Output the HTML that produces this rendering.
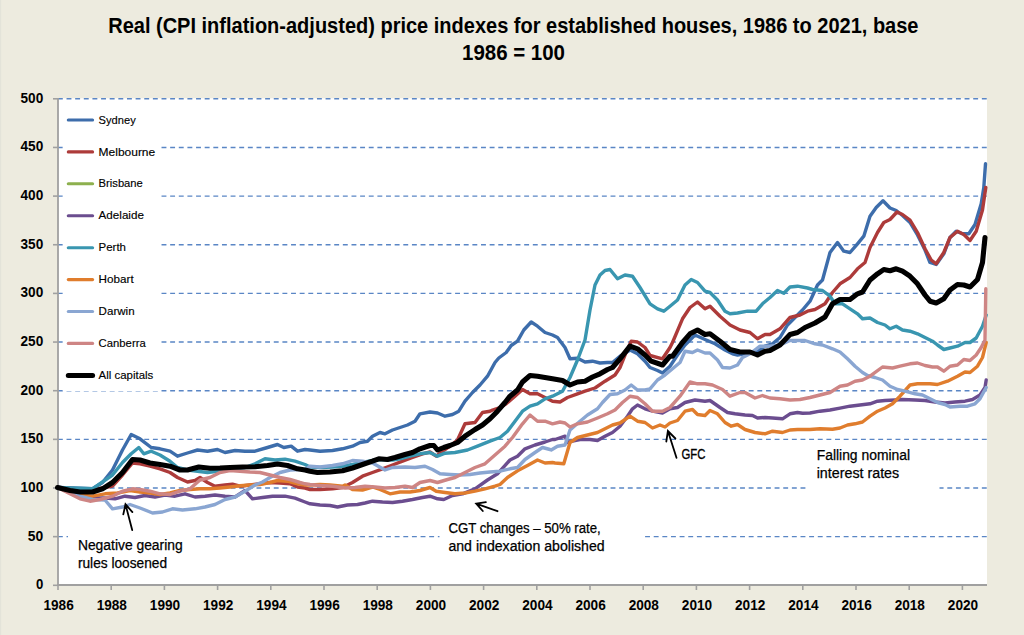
<!DOCTYPE html>
<html><head><meta charset="utf-8"><style>
html,body{margin:0;padding:0;background:#EDEBDF;}
body{width:1024px;height:635px;overflow:hidden;}
svg{display:block;font-family:"Liberation Sans",sans-serif;}
</style></head><body>
<svg width="1024" height="635" viewBox="0 0 1024 635">
<rect x="0" y="0" width="1024" height="635" fill="#EDEBDF"/>
<rect x="0" y="0" width="1.2" height="635" fill="#E3E3D9"/>

<rect x="58" y="98.3" width="929" height="487" fill="#FFFFFF"/>
<g stroke="#5A86C5" stroke-width="1.4" stroke-dasharray="4.9 3.735" fill="none">
<line x1="57.9" y1="536.65" x2="987" y2="536.65"/>
<line x1="57.9" y1="488.00" x2="987" y2="488.00"/>
<line x1="57.9" y1="439.35" x2="987" y2="439.35"/>
<line x1="57.9" y1="390.70" x2="987" y2="390.70"/>
<line x1="57.9" y1="342.05" x2="987" y2="342.05"/>
<line x1="57.9" y1="293.40" x2="987" y2="293.40"/>
<line x1="57.9" y1="244.75" x2="987" y2="244.75"/>
<line x1="57.9" y1="196.10" x2="987" y2="196.10"/>
<line x1="57.9" y1="147.45" x2="987" y2="147.45"/>
<line x1="57.9" y1="98.80" x2="987" y2="98.80"/>
</g>
<g stroke="#A0A0A0" stroke-width="1.6" fill="none">
<line x1="58.0" y1="98" x2="58.0" y2="586" stroke-width="1.8"/>
<line x1="57.1" y1="584.9" x2="987" y2="584.9" stroke-width="2"/>
<line x1="53" y1="585.30" x2="58" y2="585.30"/>
<line x1="53" y1="536.65" x2="58" y2="536.65"/>
<line x1="53" y1="488.00" x2="58" y2="488.00"/>
<line x1="53" y1="439.35" x2="58" y2="439.35"/>
<line x1="53" y1="390.70" x2="58" y2="390.70"/>
<line x1="53" y1="342.05" x2="58" y2="342.05"/>
<line x1="53" y1="293.40" x2="58" y2="293.40"/>
<line x1="53" y1="244.75" x2="58" y2="244.75"/>
<line x1="53" y1="196.10" x2="58" y2="196.10"/>
<line x1="53" y1="147.45" x2="58" y2="147.45"/>
<line x1="53" y1="98.80" x2="58" y2="98.80"/>
<line x1="58.00" y1="585" x2="58.00" y2="590"/>
<line x1="111.20" y1="585" x2="111.20" y2="590"/>
<line x1="164.40" y1="585" x2="164.40" y2="590"/>
<line x1="217.60" y1="585" x2="217.60" y2="590"/>
<line x1="270.80" y1="585" x2="270.80" y2="590"/>
<line x1="324.00" y1="585" x2="324.00" y2="590"/>
<line x1="377.20" y1="585" x2="377.20" y2="590"/>
<line x1="430.40" y1="585" x2="430.40" y2="590"/>
<line x1="483.60" y1="585" x2="483.60" y2="590"/>
<line x1="536.80" y1="585" x2="536.80" y2="590"/>
<line x1="590.00" y1="585" x2="590.00" y2="590"/>
<line x1="643.20" y1="585" x2="643.20" y2="590"/>
<line x1="696.40" y1="585" x2="696.40" y2="590"/>
<line x1="749.60" y1="585" x2="749.60" y2="590"/>
<line x1="802.80" y1="585" x2="802.80" y2="590"/>
<line x1="856.00" y1="585" x2="856.00" y2="590"/>
<line x1="909.20" y1="585" x2="909.20" y2="590"/>
<line x1="962.40" y1="585" x2="962.40" y2="590"/>
</g>
<rect x="62.8" y="100" width="98.2" height="291.1" fill="#FFFFFF"/>
<text x="35.90" y="589.30" font-size="14" font-weight="bold" textLength="7.30" lengthAdjust="spacingAndGlyphs" fill="#000">0</text>
<text x="27.80" y="540.65" font-size="14" font-weight="bold" textLength="15.40" lengthAdjust="spacingAndGlyphs" fill="#000">50</text>
<text x="20.50" y="492.00" font-size="14" font-weight="bold" textLength="22.70" lengthAdjust="spacingAndGlyphs" fill="#000">100</text>
<text x="20.50" y="443.35" font-size="14" font-weight="bold" textLength="22.70" lengthAdjust="spacingAndGlyphs" fill="#000">150</text>
<text x="20.50" y="394.70" font-size="14" font-weight="bold" textLength="22.70" lengthAdjust="spacingAndGlyphs" fill="#000">200</text>
<text x="20.50" y="346.05" font-size="14" font-weight="bold" textLength="22.70" lengthAdjust="spacingAndGlyphs" fill="#000">250</text>
<text x="20.50" y="297.40" font-size="14" font-weight="bold" textLength="22.70" lengthAdjust="spacingAndGlyphs" fill="#000">300</text>
<text x="20.50" y="248.75" font-size="14" font-weight="bold" textLength="22.70" lengthAdjust="spacingAndGlyphs" fill="#000">350</text>
<text x="20.50" y="200.10" font-size="14" font-weight="bold" textLength="22.70" lengthAdjust="spacingAndGlyphs" fill="#000">400</text>
<text x="20.50" y="151.45" font-size="14" font-weight="bold" textLength="22.70" lengthAdjust="spacingAndGlyphs" fill="#000">450</text>
<text x="20.50" y="102.80" font-size="14" font-weight="bold" textLength="22.70" lengthAdjust="spacingAndGlyphs" fill="#000">500</text>
<text x="43.45" y="609.60" font-size="14" font-weight="bold" textLength="30.30" lengthAdjust="spacingAndGlyphs" fill="#000">1986</text>
<text x="96.65" y="609.60" font-size="14" font-weight="bold" textLength="30.30" lengthAdjust="spacingAndGlyphs" fill="#000">1988</text>
<text x="149.85" y="609.60" font-size="14" font-weight="bold" textLength="30.30" lengthAdjust="spacingAndGlyphs" fill="#000">1990</text>
<text x="203.05" y="609.60" font-size="14" font-weight="bold" textLength="30.30" lengthAdjust="spacingAndGlyphs" fill="#000">1992</text>
<text x="256.25" y="609.60" font-size="14" font-weight="bold" textLength="30.30" lengthAdjust="spacingAndGlyphs" fill="#000">1994</text>
<text x="309.45" y="609.60" font-size="14" font-weight="bold" textLength="30.30" lengthAdjust="spacingAndGlyphs" fill="#000">1996</text>
<text x="362.65" y="609.60" font-size="14" font-weight="bold" textLength="30.30" lengthAdjust="spacingAndGlyphs" fill="#000">1998</text>
<text x="415.85" y="609.60" font-size="14" font-weight="bold" textLength="30.30" lengthAdjust="spacingAndGlyphs" fill="#000">2000</text>
<text x="469.05" y="609.60" font-size="14" font-weight="bold" textLength="30.30" lengthAdjust="spacingAndGlyphs" fill="#000">2002</text>
<text x="522.25" y="609.60" font-size="14" font-weight="bold" textLength="30.30" lengthAdjust="spacingAndGlyphs" fill="#000">2004</text>
<text x="575.45" y="609.60" font-size="14" font-weight="bold" textLength="30.30" lengthAdjust="spacingAndGlyphs" fill="#000">2006</text>
<text x="628.65" y="609.60" font-size="14" font-weight="bold" textLength="30.30" lengthAdjust="spacingAndGlyphs" fill="#000">2008</text>
<text x="681.85" y="609.60" font-size="14" font-weight="bold" textLength="30.30" lengthAdjust="spacingAndGlyphs" fill="#000">2010</text>
<text x="735.05" y="609.60" font-size="14" font-weight="bold" textLength="30.30" lengthAdjust="spacingAndGlyphs" fill="#000">2012</text>
<text x="788.25" y="609.60" font-size="14" font-weight="bold" textLength="30.30" lengthAdjust="spacingAndGlyphs" fill="#000">2014</text>
<text x="841.45" y="609.60" font-size="14" font-weight="bold" textLength="30.30" lengthAdjust="spacingAndGlyphs" fill="#000">2016</text>
<text x="894.65" y="609.60" font-size="14" font-weight="bold" textLength="30.30" lengthAdjust="spacingAndGlyphs" fill="#000">2018</text>
<text x="947.85" y="609.60" font-size="14" font-weight="bold" textLength="30.30" lengthAdjust="spacingAndGlyphs" fill="#000">2020</text>
<text x="108.20" y="32.50" font-size="21.5" font-weight="bold" textLength="810.30" lengthAdjust="spacingAndGlyphs" fill="#000">Real (CPI inflation-adjusted) price indexes for established houses, 1986 to 2021, base</text>
<text x="462.00" y="60.40" font-size="21.5" font-weight="bold" textLength="103.00" lengthAdjust="spacingAndGlyphs" fill="#000">1986 = 100</text>
<rect x="68" y="527" width="127.5" height="48" fill="#FFFFFF"/>
<rect x="439.5" y="515" width="205.5" height="48" fill="#FFFFFF"/>
<rect x="806" y="443" width="133.5" height="50" fill="#FFFFFF"/>
<g fill="none" stroke-linejoin="round" stroke-linecap="round">
<polyline stroke="#3D6DAB" stroke-width="3.4" points="57.5,487.5 92.5,488.8 102.5,482.5 112.5,470.0 122.5,450.0 131.2,434.5 140.0,438.8 151.2,447.5 160.0,448.8 170.0,451.2 177.5,456.2 187.5,453.0 197.5,450.0 207.5,451.2 217.5,449.5 225.0,452.5 235.0,450.5 245.0,451.2 255.0,451.2 267.5,447.5 277.5,444.5 283.8,447.5 291.2,446.2 297.5,451.2 305.0,449.5 310.0,450.0 320.0,451.2 332.5,450.5 342.5,448.8 352.5,446.2 360.0,442.5 367.5,441.2 372.5,436.2 380.0,432.5 385.0,433.8 392.5,430.0 400.0,427.5 407.5,425.0 415.0,421.2 420.0,413.8 430.0,412.0 437.5,413.0 445.0,416.2 452.5,414.5 458.8,411.2 465.0,401.2 472.5,392.5 480.0,385.0 487.5,376.2 495.0,362.5 498.8,358.0 506.2,352.5 511.2,345.5 517.5,341.2 523.8,330.0 531.2,322.0 537.5,326.2 545.0,332.5 552.5,335.0 557.5,337.5 565.0,347.5 570.0,358.8 577.5,358.2 585.0,362.0 592.5,361.2 600.0,363.0 607.5,362.5 612.5,362.5 620.0,356.2 630.0,350.0 637.5,353.8 645.0,361.2 650.0,367.5 657.5,370.5 662.5,373.0 670.0,366.2 677.5,355.0 685.0,345.0 695.0,335.0 705.0,339.5 715.0,343.8 725.0,350.0 732.5,353.8 737.5,355.0 745.0,353.8 750.0,352.5 757.5,351.2 765.0,346.2 772.5,343.8 780.0,337.5 787.5,325.0 795.0,317.5 802.5,310.0 810.0,301.2 817.5,285.0 822.5,280.0 830.0,252.5 837.5,242.5 843.8,251.2 850.0,252.5 857.5,243.8 863.8,236.2 870.0,216.2 876.2,207.5 883.0,200.8 890.0,208.0 896.2,210.5 902.5,215.5 910.0,222.5 917.5,235.0 925.0,250.0 930.0,262.5 936.2,264.5 943.8,253.8 950.0,237.5 956.2,231.2 962.5,233.8 968.8,233.8 975.0,224.5 981.2,203.8 983.8,187.5 985.5,163.8"/>
<polyline stroke="#AD3B3A" stroke-width="3.4" points="57.5,487.5 92.5,490.0 112.5,486.2 122.5,475.0 132.5,463.0 140.0,463.8 150.0,466.2 160.0,468.8 170.0,472.5 177.5,477.5 187.5,482.0 195.0,480.5 200.0,477.5 207.5,482.5 215.0,486.2 225.0,485.0 232.5,484.2 240.0,486.2 250.0,485.0 260.0,483.8 270.0,482.5 280.0,483.0 290.0,483.8 297.5,487.0 305.0,488.0 310.0,489.5 320.0,489.5 332.5,488.8 342.5,487.5 352.5,482.5 362.5,476.2 372.5,472.5 382.5,468.8 392.5,465.0 402.5,461.2 412.5,457.5 422.5,453.8 430.0,452.0 436.2,456.2 440.0,453.0 450.0,446.2 457.5,440.0 465.0,423.8 475.0,422.5 482.5,412.5 490.0,411.2 492.5,410.0 500.0,407.5 506.2,403.8 515.0,396.2 522.5,389.5 530.0,393.8 537.5,393.8 545.0,397.5 552.5,401.2 560.0,402.0 567.5,397.5 577.5,393.8 585.0,391.2 595.0,388.0 605.0,381.2 615.0,375.0 620.0,367.5 625.0,355.0 631.2,341.2 637.5,342.0 645.0,347.5 650.0,355.5 662.5,358.8 670.0,347.5 672.5,342.5 682.5,318.8 690.0,307.5 697.5,302.0 705.0,308.8 710.0,306.2 720.0,316.2 730.0,325.0 740.0,330.0 750.0,332.5 757.5,338.8 765.0,334.5 770.0,334.5 780.0,328.8 790.0,317.5 800.0,315.0 807.5,311.2 815.0,309.5 825.0,303.8 832.5,292.5 840.0,283.8 850.0,277.5 857.5,268.8 865.0,262.5 870.0,247.5 877.5,232.5 883.8,222.5 890.0,219.5 897.0,212.0 902.5,214.5 910.0,220.0 917.5,232.5 925.0,248.8 931.2,260.0 936.2,263.8 943.8,252.5 950.0,237.5 957.5,231.2 963.8,234.5 970.0,240.5 976.2,231.2 982.5,210.0 985.8,187.5"/>
<polyline stroke="#6B4D8F" stroke-width="3.4" points="57.5,487.5 80.0,496.2 92.5,498.0 105.0,498.0 115.0,498.8 125.0,496.2 135.0,497.5 145.0,495.5 155.0,497.0 165.0,495.0 175.0,496.2 185.0,493.8 195.0,497.0 205.0,496.2 215.0,495.0 225.0,496.2 235.0,497.0 245.0,490.5 252.5,498.8 262.5,497.5 272.5,496.2 285.0,496.2 295.0,498.2 305.0,502.0 310.0,503.8 320.0,505.0 330.0,505.5 337.5,507.0 347.5,505.0 357.5,504.5 365.0,503.0 372.5,501.2 382.5,502.0 392.5,502.5 402.5,501.2 412.5,499.5 422.5,497.5 430.0,496.2 437.5,498.8 443.8,499.5 452.5,495.5 462.5,493.8 475.0,488.8 487.5,480.0 497.5,473.8 510.0,460.0 517.5,456.2 525.0,448.8 535.0,445.0 545.0,442.0 552.5,439.5 555.0,439.5 565.0,436.2 567.5,442.5 572.5,441.2 580.0,439.5 590.0,439.5 597.5,440.5 605.0,436.2 612.5,432.5 620.0,426.2 627.5,416.2 632.5,408.8 637.5,405.0 645.0,408.8 652.5,411.2 662.5,413.0 670.0,408.8 677.5,407.5 685.0,402.5 695.0,400.0 705.0,401.2 710.0,400.5 720.0,407.5 727.5,412.5 735.0,413.8 745.0,415.0 752.5,415.5 757.5,418.0 765.0,417.5 772.5,418.0 782.5,418.8 790.0,413.8 797.5,412.5 802.5,413.2 810.0,413.0 820.0,411.2 830.0,410.0 840.0,408.2 850.0,406.2 860.0,405.0 870.0,403.8 877.5,401.2 885.0,400.5 895.0,400.0 902.5,399.5 915.0,400.0 925.0,400.5 935.0,402.0 945.0,403.0 955.0,402.0 965.0,401.2 972.5,399.5 980.0,395.0 985.0,387.5 986.2,380.0"/>
<polyline stroke="#3996B0" stroke-width="3.4" points="57.5,487.5 92.5,488.8 112.5,475.0 122.5,462.5 131.2,453.8 138.8,447.5 143.8,453.8 151.2,451.2 160.0,455.0 170.0,461.2 177.5,467.5 187.5,470.0 197.5,471.2 207.5,472.5 217.5,471.2 230.0,470.0 245.0,467.5 255.0,463.8 265.0,458.8 275.0,460.0 285.0,459.2 295.0,461.2 305.0,464.5 310.0,467.0 320.0,467.5 332.5,467.0 342.5,466.2 352.5,464.5 365.0,462.0 375.0,460.0 385.0,459.5 392.5,460.0 400.0,458.8 410.0,456.2 420.0,453.8 430.0,452.5 437.5,456.2 445.0,453.2 455.0,452.5 467.5,450.0 477.5,446.2 490.0,441.2 500.0,437.5 507.5,431.2 515.0,421.2 522.5,411.2 530.0,406.2 537.5,403.8 545.0,398.8 552.5,396.2 562.5,391.2 570.0,377.5 577.5,360.0 585.0,340.0 590.0,310.0 595.0,285.0 600.0,275.0 605.0,270.5 610.0,269.5 617.5,278.8 625.0,275.0 632.5,276.2 640.0,287.5 650.0,303.8 657.5,308.8 663.8,311.2 670.0,306.2 677.5,300.0 685.0,285.0 691.2,279.5 697.5,282.5 705.0,291.2 710.0,292.5 717.5,300.0 725.0,311.2 730.0,313.8 737.5,313.0 747.5,311.2 756.2,311.2 762.5,303.8 770.0,297.5 777.5,290.5 783.8,293.2 790.0,287.0 797.5,286.2 807.5,288.0 812.5,289.5 822.5,290.5 830.0,296.2 835.0,303.8 842.5,303.8 850.0,308.8 857.5,313.8 862.5,318.8 870.0,318.0 877.5,322.5 885.0,325.0 890.0,328.8 896.2,326.2 902.5,330.0 910.0,331.2 917.5,333.8 925.0,337.5 932.5,341.2 937.5,345.0 943.8,349.5 950.0,348.0 957.5,346.2 965.0,342.5 970.0,342.5 976.2,338.0 982.5,326.2 986.2,315.0"/>
<polyline stroke="#E07D2D" stroke-width="3.4" points="57.5,487.5 80.0,495.0 92.5,496.2 105.0,493.8 117.5,493.0 130.0,490.5 140.0,492.0 150.0,493.0 160.0,494.5 170.0,493.0 180.0,490.5 190.0,489.5 200.0,488.8 210.0,488.8 220.0,488.0 230.0,487.0 240.0,485.8 250.0,485.0 260.0,484.5 270.0,482.5 277.5,480.5 287.5,481.2 297.5,483.8 305.0,485.0 310.0,485.0 320.0,484.5 330.0,485.0 342.5,486.2 345.0,485.0 352.5,489.5 362.5,490.0 372.5,487.0 380.0,489.5 390.0,493.8 400.0,492.0 410.0,492.0 420.0,490.5 430.0,487.5 436.2,491.2 445.0,492.5 455.0,493.8 465.0,493.0 475.0,491.2 485.0,488.8 495.0,486.2 500.0,484.5 507.5,477.5 517.5,470.8 527.5,465.5 537.5,460.0 545.0,463.0 552.5,462.5 555.0,463.0 563.8,463.8 570.0,442.5 577.5,437.5 587.5,435.0 597.5,432.5 605.0,428.8 612.5,425.0 620.0,423.0 630.0,416.2 637.5,421.2 645.0,422.5 652.5,428.0 660.0,425.0 665.0,427.0 670.0,423.0 677.5,420.5 685.0,411.2 692.5,409.5 697.5,414.5 705.0,415.5 710.0,410.5 717.5,413.8 725.0,422.5 731.2,426.2 737.5,424.5 745.0,429.5 755.0,432.5 765.0,433.8 772.5,431.2 782.5,432.5 790.0,430.0 797.5,429.5 810.0,429.5 820.0,428.8 832.5,429.2 840.0,428.0 847.5,425.0 855.0,423.8 862.5,422.0 870.0,416.2 877.5,411.2 885.0,408.0 892.5,403.8 900.0,396.2 910.0,385.0 917.5,383.8 930.0,383.8 937.5,384.5 947.5,381.2 957.5,376.2 965.0,372.0 970.0,372.5 977.5,366.2 982.5,357.5 986.2,342.5"/>
<polyline stroke="#8AA6D2" stroke-width="3.4" points="57.5,487.5 80.0,496.2 92.5,499.5 105.0,500.0 112.5,508.8 122.5,507.0 130.0,504.5 140.0,508.0 152.5,513.0 162.5,512.0 172.5,508.8 182.5,510.0 195.0,508.8 205.0,507.0 215.0,504.5 225.0,499.5 235.0,497.0 245.0,491.2 255.0,485.0 262.5,482.0 270.0,477.5 280.0,472.5 290.0,470.0 300.0,469.5 305.0,469.5 310.0,466.2 320.0,467.0 332.5,465.5 342.5,463.8 352.5,460.5 362.5,461.2 372.5,463.0 385.0,470.0 392.5,467.5 405.0,467.0 415.0,467.5 425.0,466.2 432.5,469.5 440.0,473.8 450.0,474.5 460.0,475.0 470.0,474.5 480.0,473.0 490.0,472.0 500.0,471.2 510.0,468.8 517.5,467.5 525.0,459.5 535.0,452.5 542.5,447.5 550.0,449.5 551.2,450.0 557.5,446.2 565.0,445.0 570.0,430.0 580.0,421.2 587.5,415.0 597.5,408.8 602.5,402.5 610.0,394.5 617.5,393.8 625.0,390.0 631.2,385.0 637.5,390.0 645.0,390.0 650.0,388.8 657.5,380.0 665.0,375.0 672.5,368.8 680.0,362.5 685.0,351.2 692.5,352.5 697.5,350.0 705.0,353.0 710.0,353.0 717.5,360.0 722.5,367.5 730.0,368.0 737.5,365.0 742.5,357.5 750.0,353.8 760.0,346.2 770.0,346.2 780.0,345.0 790.0,340.5 797.5,340.5 805.0,340.5 815.0,343.8 822.5,345.0 832.5,348.8 840.0,352.0 847.5,358.8 855.0,366.2 862.5,372.5 867.5,375.5 875.0,377.5 882.5,380.0 890.0,386.2 897.5,389.5 905.0,391.2 915.0,393.8 922.5,395.0 930.0,398.8 937.5,402.5 945.0,404.5 950.0,407.0 960.0,406.2 967.5,406.2 975.0,403.8 980.0,398.8 986.2,387.5"/>
<polyline stroke="#CE8584" stroke-width="3.4" points="57.5,487.5 70.0,493.8 80.0,498.8 90.0,501.2 100.0,499.5 112.5,496.2 122.5,491.2 132.5,488.8 140.0,489.5 150.0,491.2 160.0,493.8 170.0,494.5 180.0,491.2 190.0,488.8 200.0,480.0 210.0,477.5 220.0,472.5 230.0,470.5 240.0,471.2 250.0,472.0 260.0,472.5 270.0,475.0 280.0,477.5 290.0,479.5 300.0,482.5 305.0,483.8 310.0,484.5 320.0,485.5 332.5,486.2 345.0,488.0 355.0,487.5 365.0,486.2 375.0,487.0 385.0,488.0 395.0,487.5 405.0,486.2 412.5,487.5 420.0,482.5 430.0,480.5 437.5,482.5 447.5,479.5 455.0,477.5 465.0,472.5 475.0,467.5 485.0,463.8 495.0,455.0 505.0,446.2 512.5,437.5 522.5,423.8 530.0,415.0 537.5,421.2 545.0,421.2 552.5,423.8 560.0,422.0 565.0,423.0 570.0,427.0 577.5,423.8 587.5,422.0 597.5,418.0 607.5,413.8 615.0,410.0 622.5,402.5 630.0,396.2 637.5,397.5 645.0,403.8 652.5,411.2 662.5,411.2 670.0,407.5 680.0,396.2 690.0,382.0 697.5,383.8 705.0,383.8 712.5,385.0 722.5,389.5 730.0,396.2 740.0,392.5 745.0,392.5 755.0,398.0 762.5,395.5 770.0,398.0 780.0,398.8 790.0,400.0 800.0,399.5 810.0,397.5 820.0,395.0 830.0,392.5 840.0,386.2 847.5,385.0 855.0,381.2 862.5,380.0 870.0,376.2 882.5,367.0 892.5,368.0 900.0,366.2 910.0,363.8 917.5,363.0 925.0,365.5 932.5,367.0 937.5,367.0 943.8,371.2 950.0,366.2 957.5,365.0 963.8,359.5 970.0,360.5 976.2,355.0 981.2,347.5 985.0,340.0 985.8,288.8"/>
<polyline stroke="#000000" stroke-width="5.1" points="57.5,487.5 70.0,490.5 80.0,492.0 92.5,492.0 102.5,488.8 112.5,482.5 122.5,472.5 132.5,459.5 140.0,460.0 150.0,463.0 160.0,464.5 170.0,466.2 180.0,470.0 187.5,470.0 198.8,467.0 210.0,468.2 220.0,468.0 230.0,467.5 242.5,467.0 255.0,466.8 267.5,465.5 277.5,464.0 287.5,465.5 297.5,468.8 305.0,470.0 310.0,471.2 317.5,472.5 330.0,472.0 342.5,470.8 352.5,468.0 362.5,464.5 372.5,461.2 378.8,458.8 387.5,459.5 395.0,457.5 405.0,454.5 412.5,452.5 420.0,448.8 430.0,445.5 433.8,445.5 437.5,450.0 443.8,447.5 450.0,445.5 457.5,442.5 465.0,436.2 475.0,429.5 482.5,425.0 490.0,418.8 497.5,411.2 505.0,402.5 510.0,396.2 517.5,390.0 522.5,382.0 530.0,375.5 537.5,376.2 545.0,377.5 552.5,378.8 562.5,380.5 570.0,385.0 577.5,382.0 585.0,381.2 592.5,377.0 600.0,373.8 607.5,369.5 612.5,367.5 620.0,358.8 630.0,346.2 637.5,348.8 645.0,355.0 651.2,361.2 662.5,365.0 670.0,356.2 672.5,356.2 682.5,342.5 690.0,333.8 697.5,330.0 705.0,334.5 710.0,333.8 720.0,341.2 730.0,349.5 740.0,352.0 750.0,352.0 757.5,355.0 765.0,351.2 770.0,350.5 780.0,345.0 790.0,334.5 797.5,332.5 805.0,327.5 815.0,323.0 825.0,317.0 832.5,303.8 840.0,299.5 850.0,299.5 857.5,293.8 862.5,292.0 870.0,280.0 877.5,273.8 883.8,269.5 890.0,270.8 896.2,268.8 902.5,271.2 910.0,276.2 917.5,283.8 925.0,295.0 930.0,301.2 936.2,303.0 943.8,298.8 950.0,290.0 957.5,284.5 963.8,285.0 970.0,287.0 977.5,279.5 982.5,262.5 985.0,237.5"/>
</g>
<line x1="68.3" y1="120.0" x2="92.6" y2="120.0" stroke="#3D6DAB" stroke-width="3.1" stroke-linecap="round"/>
<text x="98.60" y="123.60" font-size="11.5" stroke="#000" stroke-width="0.15" textLength="37.10" lengthAdjust="spacingAndGlyphs" fill="#000">Sydney</text>
<line x1="68.3" y1="151.9" x2="92.6" y2="151.9" stroke="#AD3B3A" stroke-width="3.1" stroke-linecap="round"/>
<text x="98.60" y="155.52" font-size="11.5" stroke="#000" stroke-width="0.15" textLength="56.60" lengthAdjust="spacingAndGlyphs" fill="#000">Melbourne</text>
<line x1="68.3" y1="183.8" x2="92.6" y2="183.8" stroke="#8DB04E" stroke-width="3.1" stroke-linecap="round"/>
<text x="98.60" y="187.44" font-size="11.5" stroke="#000" stroke-width="0.15" textLength="44.20" lengthAdjust="spacingAndGlyphs" fill="#000">Brisbane</text>
<line x1="68.3" y1="215.8" x2="92.6" y2="215.8" stroke="#6B4D8F" stroke-width="3.1" stroke-linecap="round"/>
<text x="98.60" y="219.36" font-size="11.5" stroke="#000" stroke-width="0.15" textLength="45.30" lengthAdjust="spacingAndGlyphs" fill="#000">Adelaide</text>
<line x1="68.3" y1="247.7" x2="92.6" y2="247.7" stroke="#3996B0" stroke-width="3.1" stroke-linecap="round"/>
<text x="98.60" y="251.28" font-size="11.5" stroke="#000" stroke-width="0.15" textLength="27.40" lengthAdjust="spacingAndGlyphs" fill="#000">Perth</text>
<line x1="68.3" y1="279.6" x2="92.6" y2="279.6" stroke="#E07D2D" stroke-width="3.1" stroke-linecap="round"/>
<text x="98.60" y="283.20" font-size="11.5" stroke="#000" stroke-width="0.15" textLength="35.10" lengthAdjust="spacingAndGlyphs" fill="#000">Hobart</text>
<line x1="68.3" y1="311.5" x2="92.6" y2="311.5" stroke="#8AA6D2" stroke-width="3.1" stroke-linecap="round"/>
<text x="98.60" y="315.12" font-size="11.5" stroke="#000" stroke-width="0.15" textLength="36.00" lengthAdjust="spacingAndGlyphs" fill="#000">Darwin</text>
<line x1="68.3" y1="343.4" x2="92.6" y2="343.4" stroke="#CE8584" stroke-width="3.1" stroke-linecap="round"/>
<text x="98.60" y="347.04" font-size="11.5" stroke="#000" stroke-width="0.15" textLength="47.10" lengthAdjust="spacingAndGlyphs" fill="#000">Canberra</text>
<line x1="68.3" y1="375.4" x2="92.6" y2="375.4" stroke="#000000" stroke-width="5" stroke-linecap="round"/>
<text x="98.60" y="378.96" font-size="11.5" stroke="#000" stroke-width="0.15" textLength="54.70" lengthAdjust="spacingAndGlyphs" fill="#000">All capitals</text>
<text x="77.90" y="549.60" font-size="14" stroke="#000" stroke-width="0.25" textLength="104.80" lengthAdjust="spacingAndGlyphs" fill="#000">Negative gearing</text>
<text x="77.90" y="567.70" font-size="14" stroke="#000" stroke-width="0.25" textLength="89.20" lengthAdjust="spacingAndGlyphs" fill="#000">rules loosened</text>
<text x="448.40" y="532.90" font-size="14" stroke="#000" stroke-width="0.25" textLength="152.40" lengthAdjust="spacingAndGlyphs" fill="#000">CGT changes – 50% rate,</text>
<text x="448.40" y="551.30" font-size="14" stroke="#000" stroke-width="0.25" textLength="156.30" lengthAdjust="spacingAndGlyphs" fill="#000">and indexation abolished</text>
<text x="681.40" y="458.80" font-size="14.5" stroke="#000" stroke-width="0.3" textLength="24.00" lengthAdjust="spacingAndGlyphs" fill="#000">GFC</text>
<text x="816.70" y="460.00" font-size="14" stroke="#000" stroke-width="0.25" textLength="93.40" lengthAdjust="spacingAndGlyphs" fill="#000">Falling nominal</text>
<text x="816.70" y="478.30" font-size="14" stroke="#000" stroke-width="0.25" textLength="82.50" lengthAdjust="spacingAndGlyphs" fill="#000">interest rates</text>
<path d="M132.2,530.1 L125.5,504.3 M123.3,514.4 L125.5,504.3 L132.4,512.1" stroke="#000" stroke-width="1.8" fill="none" stroke-linecap="round" stroke-linejoin="miter" stroke-miterlimit="10"/>
<path d="M497.5,511.2 L476.2,503.7 M485.9,502.2 L476.2,503.7 L482.8,511.0" stroke="#000" stroke-width="1.8" fill="none" stroke-linecap="round" stroke-linejoin="miter" stroke-miterlimit="10"/>
<path d="M676.5,457.8 L667.9,431.0 M666.3,441.5 L667.9,431.0 L675.4,438.5" stroke="#000" stroke-width="1.8" fill="none" stroke-linecap="round" stroke-linejoin="miter" stroke-miterlimit="10"/>
</svg></body></html>
